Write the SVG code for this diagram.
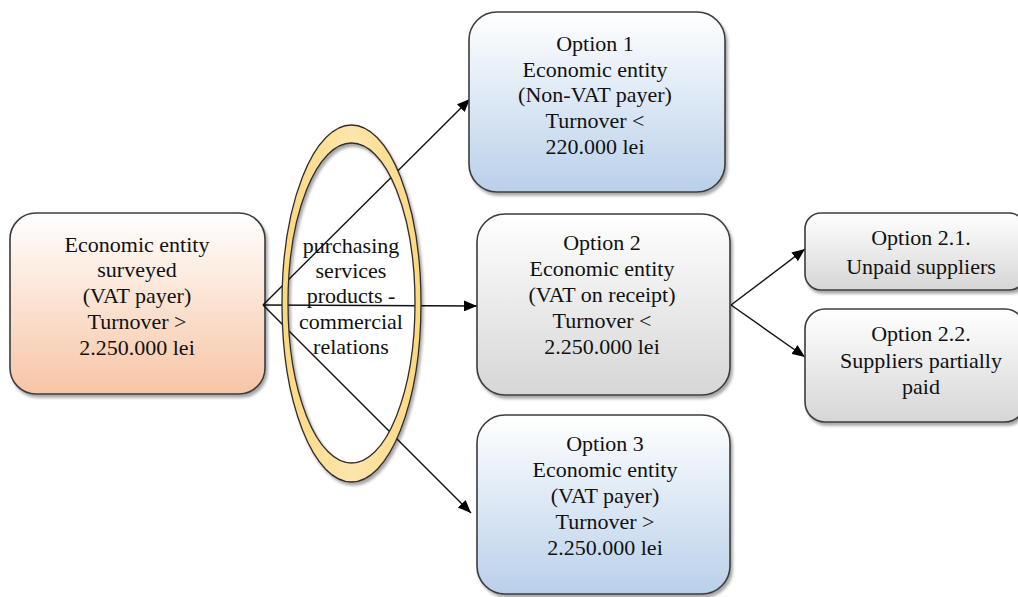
<svg xmlns="http://www.w3.org/2000/svg" width="1018" height="597" viewBox="0 0 1018 597">
  <defs>
    <linearGradient id="gOrange" x1="0" y1="0" x2="0" y2="1">
      <stop offset="0" stop-color="#ffffff"/>
      <stop offset="1" stop-color="#f7c5a5"/>
    </linearGradient>
    <linearGradient id="gBlue" x1="0" y1="0" x2="0" y2="1">
      <stop offset="0" stop-color="#ffffff"/>
      <stop offset="1" stop-color="#b9d0ea"/>
    </linearGradient>
    <linearGradient id="gGray" x1="0" y1="0" x2="0" y2="1">
      <stop offset="0" stop-color="#ffffff"/>
      <stop offset="1" stop-color="#d6d6d6"/>
    </linearGradient>
    <linearGradient id="gGold" x1="0" y1="0" x2="1" y2="0">
      <stop offset="0" stop-color="#fcd77e"/>
      <stop offset="0.5" stop-color="#fde6ad"/>
      <stop offset="1" stop-color="#fcd77e"/>
    </linearGradient>
    <filter id="shadow" x="-10%" y="-10%" width="120%" height="125%">
      <feGaussianBlur in="SourceAlpha" stdDeviation="1.5"/>
      <feOffset dx="2" dy="3" result="b"/>
      <feComponentTransfer><feFuncA type="linear" slope="0.35"/></feComponentTransfer>
      <feMerge><feMergeNode/><feMergeNode in="SourceGraphic"/></feMerge>
    </filter>
    <marker id="arrowBig" viewBox="0 0 12 10" refX="12" refY="5" markerWidth="13" markerHeight="11" markerUnits="userSpaceOnUse" orient="auto">
      <path d="M0,0 L12,5 L0,10 z" fill="#000"/>
    </marker>
  </defs>
  <style>
    .box { stroke: #3c3c3c; stroke-width: 1.6; filter: url(#shadow); }
    .lbl { font-family: "Liberation Serif", "Times New Roman", serif; font-size: 22px; fill: #111; text-anchor: middle; }
    .conn { stroke: #111; stroke-width: 1.4; fill: none; }
  </style>

  <rect width="1018" height="597" fill="#ffffff"/>

  <!-- source entity -->
  <g id="source">
    <rect class="box" x="10" y="213" width="255" height="181" rx="26" fill="url(#gOrange)"/>
    <text class="lbl" x="137" y="252">Economic entity</text>
    <text class="lbl" x="137" y="277">surveyed</text>
    <text class="lbl" x="137" y="303">(VAT payer)</text>
    <text class="lbl" x="137" y="329">Turnover &gt;</text>
    <text class="lbl" x="137" y="355">2.250.000 lei</text>
  </g>

  <!-- connectors -->
  <g id="connectors">
    <line class="conn" x1="263" y1="305" x2="470" y2="99" marker-end="url(#arrowBig)"/>
    <line class="conn" x1="263" y1="305" x2="477" y2="306" marker-end="url(#arrowBig)"/>
    <line class="conn" x1="263" y1="305" x2="471" y2="513" marker-end="url(#arrowBig)"/>
    <line class="conn" x1="731" y1="305" x2="805" y2="249" marker-end="url(#arrowBig)"/>
    <line class="conn" x1="731" y1="305" x2="805" y2="357" marker-end="url(#arrowBig)"/>
  </g>

  <!-- relation ring -->
  <g id="relations">
    <path d="M282,303.5 a69.5,178.5 0 1,0 139,0 a69.5,178.5 0 1,0 -139,0 z M288,303 a63.5,160 0 1,1 127,0 a63.5,160 0 1,1 -127,0 z"
          fill="url(#gGold)" fill-rule="evenodd" stroke="#2e2e2e" stroke-width="1.3" filter="url(#shadow)"/>
    <text class="lbl" x="351" y="253">purchasing</text>
    <text class="lbl" x="351" y="278">services</text>
    <text class="lbl" x="351" y="303">products -</text>
    <text class="lbl" x="351" y="329">commercial</text>
    <text class="lbl" x="351" y="354">relations</text>
  </g>

  <!-- option 1 -->
  <g id="option1">
    <rect class="box" x="469" y="12" width="256" height="180" rx="28" fill="url(#gBlue)"/>
    <text class="lbl" x="595" y="51">Option 1</text>
    <text class="lbl" x="595" y="77">Economic entity</text>
    <text class="lbl" x="595" y="102">(Non-VAT payer)</text>
    <text class="lbl" x="595" y="128">Turnover &lt;</text>
    <text class="lbl" x="595" y="154">220.000 lei</text>
  </g>

  <!-- option 2 -->
  <g id="option2">
    <rect class="box" x="477" y="214" width="253" height="181" rx="28" fill="url(#gGray)"/>
    <text class="lbl" x="602" y="250">Option 2</text>
    <text class="lbl" x="602" y="276">Economic entity</text>
    <text class="lbl" x="602" y="302">(VAT on receipt)</text>
    <text class="lbl" x="602" y="328">Turnover &lt;</text>
    <text class="lbl" x="602" y="354">2.250.000 lei</text>
  </g>

  <!-- option 3 -->
  <g id="option3">
    <rect class="box" x="477" y="415" width="253" height="179" rx="28" fill="url(#gBlue)"/>
    <text class="lbl" x="605" y="451">Option 3</text>
    <text class="lbl" x="605" y="477">Economic entity</text>
    <text class="lbl" x="605" y="503">(VAT payer)</text>
    <text class="lbl" x="605" y="529">Turnover &gt;</text>
    <text class="lbl" x="605" y="555">2.250.000 lei</text>
  </g>

  <!-- option 2.1 -->
  <g id="option21">
    <rect class="box" x="805" y="213" width="220" height="77" rx="16" fill="url(#gGray)"/>
    <text class="lbl" x="921" y="245">Option 2.1.</text>
    <text class="lbl" x="921" y="274">Unpaid suppliers</text>
  </g>

  <!-- option 2.2 -->
  <g id="option22">
    <rect class="box" x="805" y="309" width="220" height="113" rx="20" fill="url(#gGray)"/>
    <text class="lbl" x="921" y="341">Option 2.2.</text>
    <text class="lbl" x="921" y="368">Suppliers partially</text>
    <text class="lbl" x="921" y="394">paid</text>
  </g>
</svg>
